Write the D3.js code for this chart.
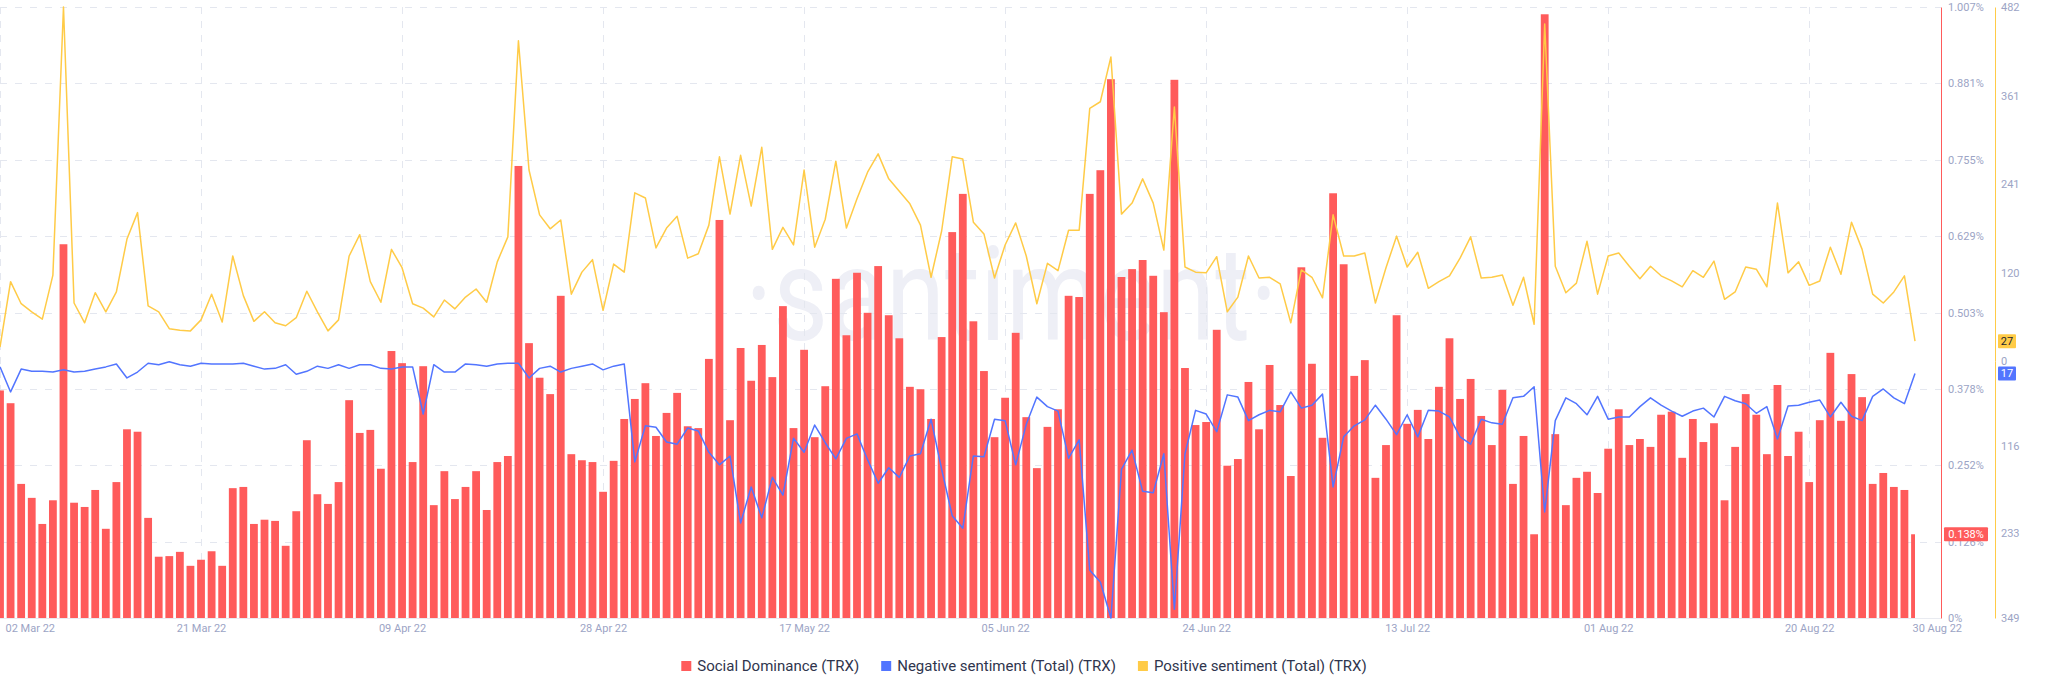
<!DOCTYPE html>
<html><head><meta charset="utf-8">
<script src="https://cdn.jsdelivr.net/npm/d3@7"></script>
<style>body{margin:0;background:#fff;} svg{display:block;}</style>
</head><body>
<svg id="chart" width="2048" height="693"></svg>
<script>
// ---- DATA ----
const startDate = new Date(2022, 2, 2); // 02 Mar 2022, daily series
const socialDominance = [
 0.375,0.354,0.221,0.198,0.155,0.194,0.616,0.190,0.183,0.211,
 0.147,0.224,0.311,0.307,0.165,0.101,0.102,0.109,0.086,0.096,
 0.110,0.086,0.214,0.216,0.155,0.162,0.160,0.119,0.176,0.293,
 0.204,0.188,0.224,0.359,0.305,0.310,0.246,0.440,0.420,0.257,
 0.415,0.186,0.242,0.196,0.216,0.242,0.178,0.257,0.267,0.745,
 0.453,0.396,0.369,0.531,0.270,0.260,0.257,0.208,0.259,0.328,
 0.361,0.387,0.300,0.338,0.371,0.316,0.313,0.427,0.656,0.326,
 0.445,0.391,0.450,0.397,0.514,0.313,0.442,0.298,0.382,0.559,
 0.466,0.569,0.503,0.580,0.499,0.461,0.381,0.377,0.328,0.463,
 0.636,0.699,0.489,0.407,0.298,0.363,0.470,0.331,0.247,0.315,
 0.344,0.531,0.529,0.699,0.738,0.888,0.562,0.575,0.590,0.564,
 0.504,0.887,0.412,0.318,0.323,0.475,0.251,0.262,0.389,0.311,
 0.417,0.351,0.234,0.578,0.419,0.297,0.700,0.583,0.399,0.425,
 0.231,0.285,0.499,0.320,0.343,0.295,0.381,0.461,0.361,0.394,
 0.333,0.285,0.376,0.221,0.300,0.138,0.995,0.303,0.186,0.231,
 0.241,0.206,0.279,0.344,0.285,0.295,0.282,0.335,0.340,0.264,
 0.328,0.290,0.321,0.194,0.282,0.369,0.335,0.270,0.384,0.267,
 0.307,0.224,0.326,0.437,0.325,0.402,0.364,0.221,0.239,0.216,
 0.211,0.138];
const negativeSentiment = [
 8,42,11,14,14,15,12,15,14,11,
 8,4,23,15,3,5,1,5,7,3,
 4,4,4,3,7,11,10,5,18,14,
 7,10,5,10,5,5,10,11,8,8,
 72,5,15,15,4,5,7,4,3,3,
 23,10,7,15,10,7,4,12,7,4,
 137,88,90,110,113,91,95,124,141,129,
 220,171,213,158,182,105,124,87,111,133,
 105,99,134,166,145,158,129,126,79,147,
 210,227,129,130,79,81,141,86,49,62,
 68,132,107,284,300,349,147,121,177,179,
 126,337,126,67,72,96,46,49,81,73,
 67,69,42,64,60,45,171,103,88,80,
 60,79,100,73,103,67,68,76,103,113,
 79,84,86,50,48,35,205,81,50,58,
 73,48,79,76,76,62,50,60,68,75,
 68,64,76,48,54,58,71,62,106,61,
 60,56,53,76,56,75,81,48,38,50,
 58,17];
const positiveSentiment = [
 19,108,78,67,57,117,482,79,52,93,
 67,94,166,202,75,67,44,42,41,56,
 91,53,143,89,54,67,52,48,59,95,
 67,41,56,143,172,108,80,152,127,78,
 72,60,83,71,87,98,80,135,169,436,
 260,199,180,192,91,121,138,69,132,121,
 229,222,154,181,197,140,146,185,278,200,
 280,211,291,152,182,158,260,155,193,272,
 181,221,257,282,248,231,214,185,114,177,
 278,275,189,173,113,158,188,143,78,133,
 123,178,178,344,353,414,200,215,248,215,
 151,346,128,121,120,142,67,87,143,113,
 114,105,52,124,114,86,199,143,143,147,
 79,127,170,128,148,99,108,116,140,169,
 113,114,117,76,114,50,459,129,93,106,
 163,91,143,147,129,112,129,116,109,101,
 123,114,136,84,94,128,125,101,215,120,
 135,103,109,155,118,189,152,91,79,94,
 116,27];
const xTickDates = ["2022-03-02","2022-03-21","2022-04-09","2022-04-28","2022-05-17","2022-06-05","2022-06-24","2022-07-13","2022-08-01","2022-08-20","2022-08-30"];
const sdTicks = [0,0.126,0.252,0.378,0.503,0.629,0.755,0.881,1.007];
const posTicks = [0,120,241,361,482];
const negTicks = [116,233,349];
const seriesNames = ["Social Dominance (TRX)","Negative sentiment (Total) (TRX)","Positive sentiment (Total) (TRX)"];
const seriesColors = ["#ff5b5b","#5275ff","#ffcb47"];

// ---- LAYOUT ----
const plotRight = 1941, plotTop = 7, plotBottom = 618, dataRight = 1915, posAxisX = 1995;
const FONT = "Roboto, 'Noto Sans', sans-serif";
const tickColor = "#9ca4c5", gridColor = "#e4e7ef";

const dates = socialDominance.map((_, i) => d3.timeDay.offset(startDate, i));
const parse = d3.timeParse("%Y-%m-%d");
const tickDates = xTickDates.map(parse);

const x = d3.scaleTime().domain([dates[0], dates[dates.length-1]]).range([0, dataRight]);
const ySD = d3.scaleLinear().domain([0, 1.007]).range([plotBottom, plotTop]);
const yPos = d3.scaleLinear().domain([0, 482]).range([361, plotTop]);
const yNeg = d3.scaleLinear().domain([0, 349]).range([361, plotBottom]);

const svg = d3.select("#chart");
svg.append("rect").attr("width",2048).attr("height",693).attr("fill","#fff");

// watermark
svg.append("text").text("·santiment·")
  .attr("x", 745).attr("y", 340)
  .attr("font-family", FONT).attr("font-size", 132)
  .attr("fill", "#eeeff6")
  .attr("textLength", 533).attr("lengthAdjust", "spacingAndGlyphs");

// grid
const grid = svg.append("g");
grid.selectAll("line.h").data(sdTicks.filter(d => d > 0)).join("line")
  .attr("x1", 0).attr("x2", plotRight)
  .attr("y1", d => Math.round(ySD(d)) + 0.5).attr("y2", d => Math.round(ySD(d)) + 0.5)
  .attr("stroke", gridColor).attr("stroke-dasharray", "7 8");
grid.selectAll("line.v").data(tickDates.slice(0, -1)).join("line")
  .attr("x1", d => Math.round(x(d)) + 0.5).attr("x2", d => Math.round(x(d)) + 0.5)
  .attr("y1", plotTop).attr("y2", plotBottom)
  .attr("stroke", gridColor).attr("stroke-dasharray", "7 7");
svg.append("line").attr("x1",0).attr("x2",plotRight).attr("y1",plotBottom+0.5).attr("y2",plotBottom+0.5)
  .attr("stroke","#e9ebf1");

// clip
svg.append("clipPath").attr("id","clip").append("rect")
  .attr("x",0).attr("y",0).attr("width",dataRight).attr("height",plotBottom);

// bars
const bw = 7.8;
svg.append("g").attr("clip-path","url(#clip)")
  .selectAll("rect").data(socialDominance).join("rect")
  .attr("x", (d,i) => x(dates[i]) - bw/2)
  .attr("width", bw)
  .attr("y", d => ySD(d))
  .attr("height", d => plotBottom - ySD(d))
  .attr("fill", seriesColors[0]);

// lines
const linePos = d3.line().x((d,i) => x(dates[i])).y(d => yPos(d));
const lineNeg = d3.line().x((d,i) => x(dates[i])).y(d => yNeg(d));
svg.append("path").datum(negativeSentiment).attr("d", lineNeg)
  .attr("fill","none").attr("stroke",seriesColors[1]).attr("stroke-width",1.5).attr("stroke-linejoin","round");
svg.append("path").datum(positiveSentiment).attr("d", linePos)
  .attr("fill","none").attr("stroke",seriesColors[2]).attr("stroke-width",1.5).attr("stroke-linejoin","round");

// axes
function styleAxis(g, color) {
  g.selectAll(".tick line").remove();
  g.selectAll(".tick text").attr("fill", tickColor).attr("font-family", FONT).attr("font-size", 11);
  g.select(".domain").attr("stroke", color).attr("stroke-width", 1);
}
const fmtPct = d => d === 0 ? "0%" : d3.format(".3f")(d) + "%";
const gSD = svg.append("g").attr("transform", `translate(${plotRight},0)`)
  .call(d3.axisRight(ySD).tickValues(sdTicks).tickFormat(fmtPct).tickSize(0).tickPadding(7));
styleAxis(gSD, seriesColors[0]);
const gPos = svg.append("g").attr("transform", `translate(${posAxisX},0)`)
  .call(d3.axisRight(yPos).tickValues(posTicks).tickFormat(d3.format("d")).tickSize(0).tickPadding(6));
styleAxis(gPos, seriesColors[2]);
const gNeg = svg.append("g").attr("transform", `translate(${posAxisX},0)`)
  .call(d3.axisRight(yNeg).tickValues(negTicks).tickFormat(d3.format("d")).tickSize(0).tickPadding(6));
styleAxis(gNeg, seriesColors[2]);

const gX = svg.append("g").attr("transform", `translate(0,${plotBottom})`)
  .call(d3.axisBottom(x).tickValues(tickDates).tickFormat(d3.timeFormat("%d %b %y")).tickSize(0).tickPadding(6));
styleAxis(gX, "none");
gX.select(".domain").remove();
const xt = gX.selectAll(".tick text");
xt.filter((d,i) => i === 0).attr("text-anchor","start").attr("x", 5);
xt.filter((d,i) => i === tickDates.length - 1).attr("text-anchor","start").attr("x", -3);

// value badges
function badge(cx, cy, w, txt, fill, color) {
  const g = svg.append("g");
  g.append("rect").attr("x", cx).attr("y", cy - 7).attr("width", w).attr("height", 14).attr("fill", fill).attr("rx", 1);
  g.append("text").attr("x", cx + w/2).attr("y", cy).attr("dy", "0.35em").attr("text-anchor","middle")
    .attr("font-family", FONT).attr("font-size", 11).attr("fill", color).text(txt);
}
const lastI = socialDominance.length - 1;
badge(plotRight + 3, ySD(socialDominance[lastI]), 44, fmtPct(socialDominance[lastI]), seriesColors[0], "#fff");
badge(posAxisX + 3, yPos(positiveSentiment[lastI]), 18, positiveSentiment[lastI], seriesColors[2], "#1b1f2f");
badge(posAxisX + 3, yNeg(negativeSentiment[lastI]), 18, negativeSentiment[lastI], seriesColors[1], "#fff");

// legend
const leg = svg.append("g");
const items = leg.selectAll("g").data(seriesNames).join("g");
items.append("rect").attr("width", 10).attr("height", 10).attr("y", -5)
  .attr("fill", (d,i) => seriesColors[i]);
items.append("text").attr("x", 16).attr("dy", "0.35em").text(d => d)
  .attr("font-family", FONT).attr("font-size", 15).attr("fill", "#2f354d");
const gap = 22; const widths = [];
items.each(function() { widths.push(16 + d3.select(this).select("text").node().getComputedTextLength()); });
const total = d3.sum(widths) + gap * (widths.length - 1);
let start = 1024 - total / 2;
items.attr("transform", (d,i) => { const t = `translate(${start},666)`; start += widths[i] + gap; return t; });
</script>
</body></html>
